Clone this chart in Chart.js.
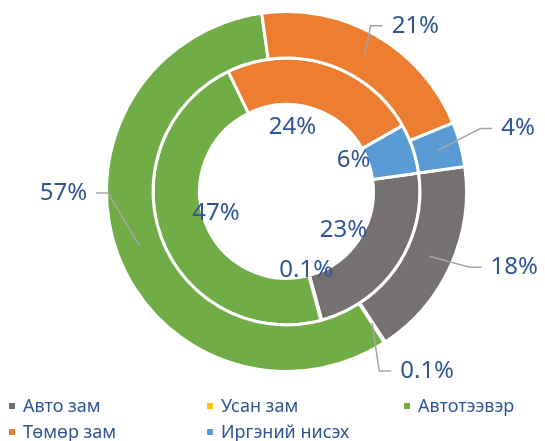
<!DOCTYPE html>
<html>
<head>
<meta charset="utf-8">
<script src="https://cdn.jsdelivr.net/npm/chart.js@4.4.1/dist/chart.umd.min.js"></script>
<style>
  html, body { margin: 0; padding: 0; background: #fff; }
  .wrap { position: relative; width: 545px; height: 441px; overflow: hidden; }
  canvas { position: absolute; left: 0; top: 0; }
  .legend { position: absolute; left: 0; top: 0; width: 545px; height: 441px; pointer-events: none;
    font-family: "Noto Sans", sans-serif; font-size: 18px; color: #2F5597; }
  .legend .item { position: absolute; white-space: nowrap; line-height: 20px; }
  .legend .box { position: absolute; width: 6px; height: 6px; }
</style>
</head>
<body>
<div class="wrap">
  <canvas id="chart" width="545" height="441"></canvas>
  <div class="legend" id="legend"></div>
</div>
<script>
// categories / values
const categories = ['Авто зам', 'Усан зам', 'Автотээвэр', 'Төмөр зам', 'Иргэний нисэх'];
const outerValues = [18, 0.1, 57, 21, 4];
const innerValues = [23, 0.1, 47, 24, 6];
const outerLabels = ['18%', '0.1%', '57%', '21%', '4%'];
const innerLabels = ['23%', '0.1%', '47%', '24%', '6%'];
const colors = ['#767171', '#FFC000', '#70AD47', '#ED7D31', '#5B9BD5'];

// label placement (radius beyond ring edge, angle shift from slice middle in degrees)
const outerLabelPlace = [[60, -6], [48, -5], [43, 20], [30, 8], [60, 0]];
const innerLabelPlace = [[-18, 1], [-6, 1], [-13, 3], [-22, -12], [-13, -6]];

const labelFont = '24px "Noto Sans", sans-serif';
const labelColor = '#2F5597';

const dataLabels = {
  id: 'dataLabels',
  afterDatasetsDraw(chart) {
    const ctx = chart.ctx;
    ctx.save();
    ctx.font = labelFont;
    ctx.fillStyle = labelColor;
    ctx.textBaseline = 'middle';

    // outer ring with leader lines
    const outer = chart.getDatasetMeta(0).data;
    outer.forEach((arc, i) => {
      const mid = (arc.startAngle + arc.endAngle) / 2;
      const lineR = (arc.outerRadius + arc.innerRadius) / 2;
      const sx = arc.x + Math.cos(mid) * lineR;
      const sy = arc.y + Math.sin(mid) * lineR;
      const a = mid + outerLabelPlace[i][1] * Math.PI / 180;
      const r = arc.outerRadius + outerLabelPlace[i][0];
      const tx = arc.x + Math.cos(a) * r;
      const ty = arc.y + Math.sin(a) * r;
      const w = ctx.measureText(outerLabels[i]).width;
      const right = tx > arc.x;
      const edge = right ? tx - w / 2 - 9 : tx + w / 2 + 9;
      const elbow = right ? edge - 12 : edge + 12;
      ctx.strokeStyle = '#A6A6A6';
      ctx.lineWidth = 1.5;
      ctx.beginPath();
      ctx.moveTo(sx, sy);
      ctx.lineTo(elbow, ty);
      ctx.lineTo(edge, ty);
      ctx.stroke();
      ctx.textAlign = 'center';
      ctx.fillText(outerLabels[i], tx, ty);
    });

    // inner ring, labels inside the hole
    const inner = chart.getDatasetMeta(1).data;
    inner.forEach((arc, i) => {
      const mid = (arc.startAngle + arc.endAngle) / 2 + innerLabelPlace[i][1] * Math.PI / 180;
      const r = arc.innerRadius + innerLabelPlace[i][0];
      ctx.textAlign = 'center';
      ctx.fillText(innerLabels[i], arc.x + Math.cos(mid) * r, arc.y + Math.sin(mid) * r);
    });
    ctx.restore();
  }
};

new Chart(document.getElementById('chart'), {
  type: 'doughnut',
  data: {
    labels: categories,
    datasets: [
      { data: outerValues, backgroundColor: colors, borderColor: '#ffffff', borderWidth: 3 },
      { data: innerValues, backgroundColor: colors, borderColor: '#ffffff', borderWidth: 3 }
    ]
  },
  options: {
    responsive: false,
    animation: false,
    rotation: 82,
    cutout: '48.3%',
    layout: { padding: { left: 105, right: 77, top: 10, bottom: 68 } },
    plugins: {
      legend: { display: false },
      tooltip: { enabled: false }
    }
  },
  plugins: [dataLabels]
});

// legend, three columns
const legend = document.getElementById('legend');
const colX = [9, 207, 404];
const rowY = [395, 421];
categories.forEach((name, i) => {
  const col = i % 3, row = Math.floor(i / 3);
  const box = document.createElement('div');
  box.className = 'box';
  box.style.left = colX[col] + 'px';
  box.style.top = (rowY[row] + 8) + 'px';
  box.style.background = colors[i];
  legend.appendChild(box);
  const item = document.createElement('div');
  item.className = 'item';
  item.style.left = (colX[col] + 14) + 'px';
  item.style.top = rowY[row] + 'px';
  item.textContent = name;
  legend.appendChild(item);
});
</script>
</body>
</html>
